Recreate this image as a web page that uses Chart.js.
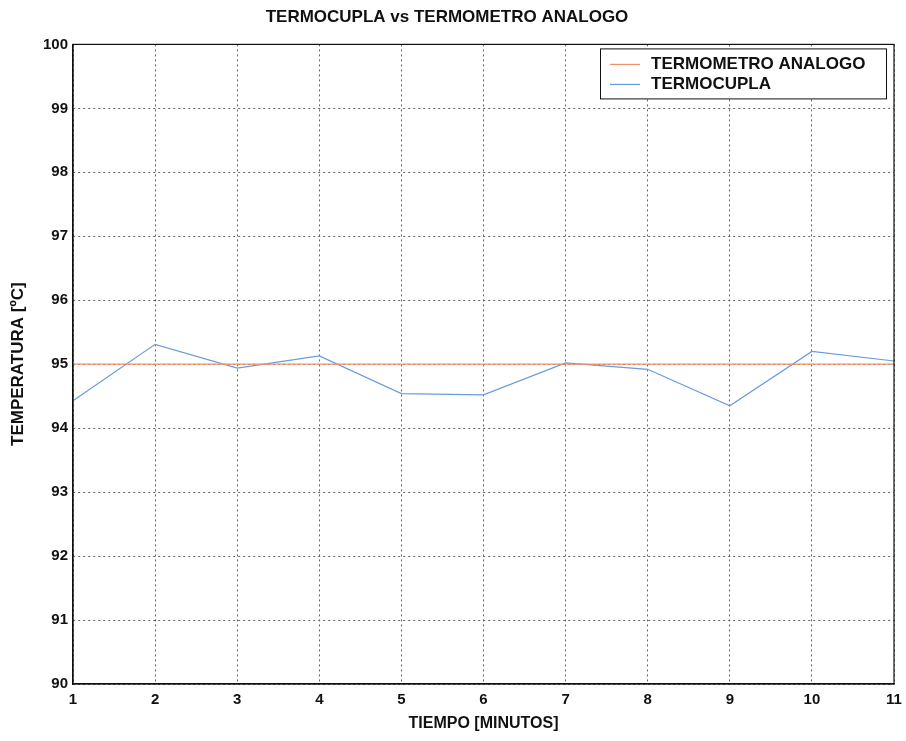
<!DOCTYPE html>
<html>
<head>
<meta charset="utf-8">
<script src="https://cdn.jsdelivr.net/npm/chart.js@4/dist/chart.umd.min.js"></script>
<style>
  html, body { margin: 0; padding: 0; background: #fff; }
  #wrap { width: 906px; height: 741px; }
</style>
</head>
<body>
<div id="wrap"><canvas id="grafico" width="906" height="741"></canvas></div>
<script>
// Tiempo en minutos y temperaturas medidas
const minutos = [1, 2, 3, 4, 5, 6, 7, 8, 9, 10, 11];
const termometroAnalogo = [95, 95, 95, 95, 95, 95, 95, 95, 95, 95, 95];
const termocupla = [94.43, 95.31, 94.94, 95.13, 94.54, 94.52, 95.02, 94.92, 94.35, 95.2, 95.05];
const ticksTemperatura = [90, 91, 92, 93, 94, 95, 96, 97, 98, 99, 100];

const FUENTE = "'Liberation Sans', Arial, sans-serif";

// caja del grafico + leyenda dentro del area (estilo matlab)
const cajaLeyenda = {
  id: 'cajaLeyenda',
  afterDraw(chart) {
    const ctx = chart.ctx;
    const a = chart.chartArea;
    ctx.save();
    ctx.strokeStyle = '#111';
    ctx.lineWidth = 1.2;
    ctx.strokeRect(a.left, a.top, a.right - a.left, a.bottom - a.top);

    // leyenda
    const bx = a.right - 294, by = a.top + 4, bw = 286, bh = 50;
    ctx.fillStyle = '#fff';
    ctx.fillRect(bx, by, bw, bh);
    ctx.lineWidth = 1;
    ctx.strokeRect(bx + 0.5, by + 0.5, bw, bh);
    ctx.font = 'bold 17px ' + FUENTE;
    ctx.textBaseline = 'middle';
    chart.data.datasets.forEach((ds, i) => {
      const y = by + 16 + i * 20;
      ctx.strokeStyle = ds.borderColor;
      ctx.lineWidth = 1.2;
      ctx.beginPath();
      ctx.moveTo(bx + 10, y);
      ctx.lineTo(bx + 40, y);
      ctx.stroke();
      ctx.fillStyle = '#111';
      ctx.fillText(ds.label, bx + 51, y);
    });
    ctx.restore();
  }
};

const ctx = document.getElementById('grafico').getContext('2d');
new Chart(ctx, {
  type: 'line',
  data: {
    datasets: [
      {
        label: 'TERMOMETRO ANALOGO',
        data: minutos.map((m, i) => ({ x: m, y: termometroAnalogo[i] })),
        borderColor: '#f0926a',
        borderWidth: 1.2,
        pointRadius: 0,
        tension: 0,
        fill: false
      },
      {
        label: 'TERMOCUPLA',
        data: minutos.map((m, i) => ({ x: m, y: termocupla[i] })),
        borderColor: '#6b9bdc',
        borderWidth: 1.2,
        pointRadius: 0,
        tension: 0,
        fill: false
      }
    ]
  },
  options: {
    responsive: false,
    animation: false,
    layout: { padding: { left: 0, right: 12, top: 0, bottom: 0 } },
    plugins: {
      legend: { display: false },
      tooltip: { enabled: false },
      title: {
        display: true,
        text: 'TERMOCUPLA vs TERMOMETRO ANALOGO',
        color: '#111',
        font: { family: FUENTE, size: 17, weight: 'bold' },
        padding: { top: 7, bottom: 17 }
      }
    },
    scales: {
      x: {
        type: 'linear',
        min: 1,
        max: 11,
        afterFit(scale) {
          scale.height = 57;
          scale.paddingLeft = 0;
          scale.paddingRight = 0;
        },
        ticks: {
          stepSize: 1,
          padding: 7,
          color: '#111',
          font: { family: FUENTE, size: 15, weight: 'bold' }
        },
        grid: {
          color: '#666',
          lineWidth: 1,
          drawTicks: false
        },
        border: { display: true, color: '#111', width: 1.2, dash: [2, 3] },
        title: {
          display: true,
          text: 'TIEMPO [MINUTOS]',
          color: '#111',
          font: { family: FUENTE, size: 16, weight: 'bold' },
          padding: { top: 0, bottom: 8 }
        }
      },
      y: {
        min: 90,
        max: 100,
        afterFit(scale) { scale.width = 73; },
        afterBuildTicks(scale) {
          scale.ticks = ticksTemperatura.map(v => ({ value: v }));
        },
        ticks: {
          padding: 5,
          color: '#111',
          font: { family: FUENTE, size: 15, weight: 'bold' }
        },
        grid: {
          color: '#666',
          lineWidth: 1,
          drawTicks: false
        },
        border: { display: true, color: '#111', width: 1.2, dash: [2, 3] },
        title: {
          display: true,
          text: 'TEMPERATURA [ºC]',
          color: '#111',
          font: { family: FUENTE, size: 17, weight: 'bold' },
          padding: { top: 8, bottom: 0 }
        }
      }
    }
  },
  plugins: [cajaLeyenda]
});
</script>
</body>
</html>
